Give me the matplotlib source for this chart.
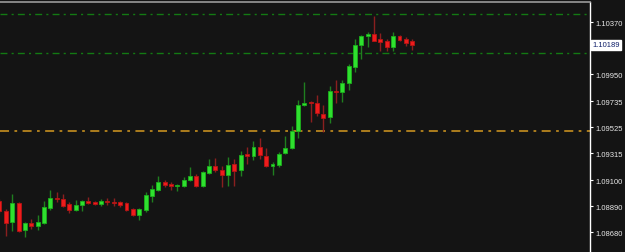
import matplotlib
matplotlib.use("Agg")
import matplotlib.pyplot as plt
import matplotlib.transforms as mtransforms
import numpy as np

# EURUSD-style candles
opens = [1.08932, 1.08851, 1.08763, 1.08916, 1.08699, 1.08755, 1.08731, 1.08755, 1.08876, 1.08956,
         1.08948, 1.08908, 1.08859, 1.08900, 1.08932, 1.08924, 1.08904, 1.08932, 1.08924, 1.08924,
         1.08916, 1.08867, 1.08819, 1.08859, 1.08972, 1.09020, 1.09085, 1.09069, 1.09053, 1.09053,
         1.09101, 1.09133, 1.09053, 1.09157, 1.09210, 1.09181, 1.09141, 1.09230, 1.09181, 1.09310,
         1.09294, 1.09367, 1.09294, 1.09214, 1.09222, 1.09318, 1.09358, 1.09495, 1.09704, 1.09729,
         1.09721, 1.09632, 1.09608, 1.09817, 1.09809, 1.09882, 1.10010, 1.10187, 1.10260, 1.10276,
         1.10236, 1.10220, 1.10171, 1.10260, 1.10236, 1.10220]
closes = [1.08851, 1.08755, 1.08916, 1.08690, 1.08755, 1.08731, 1.08763, 1.08884, 1.08956, 1.08944,
          1.08892, 1.08859, 1.08900, 1.08932, 1.08912, 1.08908, 1.08932, 1.08924, 1.08916, 1.08900,
          1.08863, 1.08819, 1.08867, 1.08980, 1.09028, 1.09085, 1.09061, 1.09053, 1.09061, 1.09101,
          1.09133, 1.09053, 1.09165, 1.09214, 1.09181, 1.09141, 1.09222, 1.09173, 1.09302, 1.09294,
          1.09367, 1.09302, 1.09214, 1.09230, 1.09310, 1.09358, 1.09495, 1.09704, 1.09721, 1.09721,
          1.09640, 1.09600, 1.09817, 1.09809, 1.09882, 1.10018, 1.10187, 1.10260, 1.10276, 1.10220,
          1.10212, 1.10171, 1.10260, 1.10228, 1.10204, 1.10189]
highs = [1.08948, 1.08867, 1.08988, 1.08924, 1.08763, 1.08787, 1.08819, 1.08932, 1.09020, 1.09004,
         1.08988, 1.08924, 1.08940, 1.08936, 1.08964, 1.08932, 1.08948, 1.08956, 1.08956, 1.08932,
         1.08924, 1.08876, 1.08872, 1.09004, 1.09061, 1.09133, 1.09101, 1.09085, 1.09069, 1.09125,
         1.09206, 1.09149, 1.09169, 1.09270, 1.09278, 1.09214, 1.09286, 1.09270, 1.09334, 1.09367,
         1.09415, 1.09439, 1.09358, 1.09246, 1.09326, 1.09455, 1.09535, 1.09745, 1.09890, 1.09737,
         1.09785, 1.09704, 1.09857, 1.09906, 1.09906, 1.10034, 1.10236, 1.10264, 1.10292, 1.10421,
         1.10284, 1.10236, 1.10292, 1.10268, 1.10252, 1.10236]
lows = [1.08835, 1.08650, 1.08690, 1.08682, 1.08642, 1.08707, 1.08699, 1.08747, 1.08859, 1.08924,
        1.08884, 1.08835, 1.08851, 1.08851, 1.08908, 1.08900, 1.08892, 1.08900, 1.08892, 1.08884,
        1.08851, 1.08811, 1.08779, 1.08843, 1.08924, 1.09012, 1.09045, 1.09020, 1.09012, 1.09045,
        1.09093, 1.09045, 1.09045, 1.09149, 1.09165, 1.09045, 1.09053, 1.09053, 1.09133, 1.09230,
        1.09262, 1.09270, 1.09206, 1.09141, 1.09206, 1.09310, 1.09350, 1.09439, 1.09696, 1.09568,
        1.09616, 1.09487, 1.09560, 1.09721, 1.09729, 1.09825, 1.09970, 1.10075, 1.10171, 1.10220,
        1.10139, 1.10139, 1.10139, 1.10220, 1.10179, 1.10147]

level_lines = [1.10437, 1.10123]
support_line = 1.09495
current_price = 1.10189
tick_values = [1.10370, 1.09950, 1.09735, 1.09525, 1.09315, 1.09100, 1.08890, 1.08680]

BG = "#141414"
UP_BODY, UP_EDGE, UP_WICK = "#2fe02f", "#1cb01c", "#1f7f1f"
DN_BODY, DN_EDGE, DN_WICK = "#ee1c1c", "#b81414", "#8a1f1f"

fig = plt.figure(figsize=(6.25, 2.53), dpi=100)
fig.patch.set_facecolor(BG)
ax = fig.add_axes([0, 0, 590 / 625, 250 / 253])
ax.set_facecolor(BG)

x = np.arange(len(opens))
body_w = 0.62
for i in x:
    o, c, h, l = opens[i], closes[i], highs[i], lows[i]
    up = c >= o
    wick = UP_WICK if up else DN_WICK
    ax.vlines(i, l, h, color=wick, linewidth=1.0, zorder=2)
    bottom = min(o, c)
    height = max(abs(c - o), 0.00002)
    ax.bar(i, height, bottom=bottom, width=body_w,
           color=UP_BODY if up else DN_BODY,
           edgecolor=UP_EDGE if up else DN_EDGE, linewidth=0.6, zorder=3)

for lv in level_lines:
    ax.axhline(lv, color="#137a13", linewidth=1.0, dashes=(5, 3, 1.5, 3), zorder=1)
ax.axhline(support_line, color="#b8861e", linewidth=1.3, dashes=(5, 3, 1.5, 3), zorder=1)

ax.set_xlim(0.08, 93.0)
ax.set_ylim(1.08521, 1.10533)

# axis styling
for side in ("left", "bottom"):
    ax.spines[side].set_visible(False)
ax.spines["top"].set_color("#9a9a9a")
ax.spines["top"].set_linewidth(1.2)
ax.spines["right"].set_color("white")
ax.spines["right"].set_linewidth(1.0)
ax.set_xticks([])
ax.yaxis.tick_right()
ax.set_yticks(tick_values)
ax.set_yticklabels([f"{v:.5f}" for v in tick_values])
ax.tick_params(axis="y", colors="white", length=2.5, width=0.8, pad=1.5,
               labelsize=5.5, labelcolor="#e8e8e8")
for lab in ax.get_yticklabels():
    lab.set_fontfamily("Liberation Sans")

# current price box
trans = mtransforms.blended_transform_factory(ax.transAxes, ax.transData)
ax.text(1.004, current_price, f"{current_price:.5f}", transform=trans,
        fontsize=5.5, family="Liberation Sans", color="#10206a", va="center", ha="left",
        zorder=10, clip_on=False,
        bbox=dict(boxstyle="square,pad=0.2", facecolor="white", edgecolor="white"))

fig.savefig("out.png", dpi=100, facecolor=fig.get_facecolor())
